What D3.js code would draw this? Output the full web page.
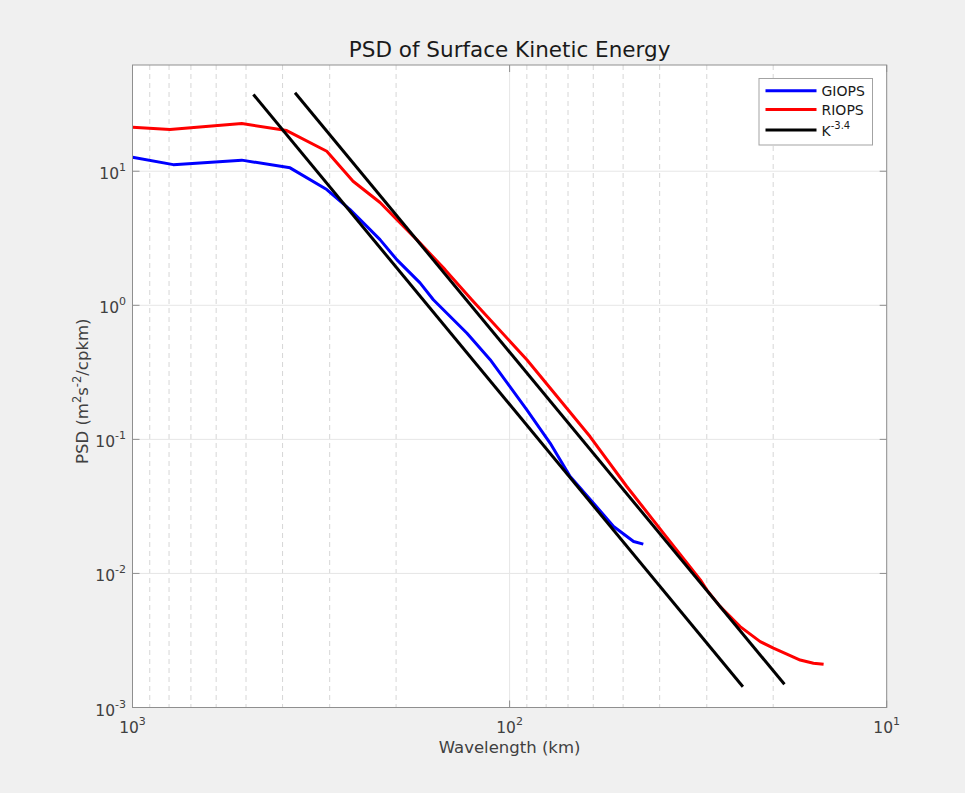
<!DOCTYPE html>
<html>
<head>
<meta charset="utf-8">
<script src="https://cdn.jsdelivr.net/npm/d3@7"></script>
<style>
  html, body { margin: 0; padding: 0; background: #f0f0f0; }
  svg { display: block; font-family: "DejaVu Sans", sans-serif; }
</style>
</head>
<body>
<svg id="chart" width="965" height="793"></svg>
<script>
// ---- data ----
const giopsWavelength = [1000, 779.6, 513.2, 382.1, 305.4, 264.9, 220.6, 199.2, 172.8, 159.3, 129.9, 112.6, 90.0, 78.1, 69.1, 59.9, 53.0, 46.9, 44.2];
const giopsPSD        = [12.7, 11.2, 12.1, 10.6, 7.30, 5.18, 3.09, 2.19, 1.47, 1.10, 0.622, 0.393, 0.166, 0.0939, 0.0528, 0.0334, 0.0224, 0.0173, 0.01653];

const riopsWavelength = [1000, 795.6, 513.2, 390.0, 305.4, 260.1, 220.6, 199.2, 176.3, 148.3, 126.0, 90.0, 61.2, 48.9, 39.1, 31.2, 30.0, 27.64, 24.47, 21.65, 19.97, 18.40, 16.96, 15.64, 14.7];
const riopsPSD        = [21.3, 20.5, 22.7, 20.1, 14.1, 8.42, 5.84, 4.36, 3.09, 1.845, 1.10, 0.393, 0.105, 0.0445, 0.0200, 0.00895, 0.00754, 0.00566, 0.00401, 0.0031, 0.00277, 0.0025, 0.00226, 0.00214, 0.0021];

const ref1Wavelength = [478, 24.06];
const ref1PSD        = [37.4, 0.00143];
const ref2Wavelength = [370.7, 18.67];
const ref2PSD        = [38.5, 0.00149];

const xMajorTicks = [1000, 100, 10];
const xMajorExp   = [3, 2, 1];
const xMinorTicks = [900, 800, 700, 600, 500, 400, 300, 200, 90, 80, 70, 60, 50, 40, 30, 20];
const yMajorTicks = [1e-3, 1e-2, 1e-1, 1, 10];
const yMajorExp   = ["-3", "-2", "-1", "0", "1"];

const seriesNames  = ["GIOPS", "RIOPS"];
const seriesColors = ["#0000ff", "#ff0000"];

// ---- layout ----
const L = 132.5, R = 886.7, T = 65, B = 707.5;
const svg = d3.select("#chart");

const x = d3.scaleLog().domain([1000, 10]).range([L, R]);
const y = d3.scaleLog().domain([1e-3, 62]).range([B, T]);

svg.append("rect").attr("x", L).attr("y", T).attr("width", R - L).attr("height", B - T).attr("fill", "#ffffff");

// grid
const g = svg.append("g");
g.selectAll(".xminor").data(xMinorTicks).enter().append("line")
  .attr("x1", d => x(d)).attr("x2", d => x(d)).attr("y1", T).attr("y2", B)
  .attr("stroke", "#d6d6d6").attr("stroke-width", 1).attr("stroke-dasharray", "5,4");
g.selectAll(".xmajor").data(xMajorTicks).enter().append("line")
  .attr("x1", d => x(d)).attr("x2", d => x(d)).attr("y1", T).attr("y2", B)
  .attr("stroke", "#e6e6e6").attr("stroke-width", 1);
g.selectAll(".ymajor").data(yMajorTicks).enter().append("line")
  .attr("y1", d => y(d)).attr("y2", d => y(d)).attr("x1", L).attr("x2", R)
  .attr("stroke", "#e6e6e6").attr("stroke-width", 1);

// data lines
const line = d3.line().x(d => x(d[0])).y(d => y(d[1]));
svg.append("defs").append("clipPath").attr("id", "clip")
  .append("rect").attr("x", L).attr("y", T).attr("width", R - L).attr("height", B - T);
const plot = svg.append("g").attr("clip-path", "url(#clip)");

const giops = giopsWavelength.map((w, i) => [w, giopsPSD[i]]);
const riops = riopsWavelength.map((w, i) => [w, riopsPSD[i]]);
const ref1 = ref1Wavelength.map((w, i) => [w, ref1PSD[i]]);
const ref2 = ref2Wavelength.map((w, i) => [w, ref2PSD[i]]);

[[giops, seriesColors[0]], [riops, seriesColors[1]], [ref1, "#000000"], [ref2, "#000000"]].forEach(([d, c]) => {
  plot.append("path").datum(d).attr("d", line)
    .attr("fill", "none").attr("stroke", c).attr("stroke-width", 3)
    .attr("stroke-linejoin", "round").attr("stroke-linecap", "butt");
});

// axes box + ticks
const axisColor = "#8f8f8f";
svg.append("rect").attr("x", L).attr("y", T).attr("width", R - L).attr("height", B - T)
  .attr("fill", "none").attr("stroke", axisColor).attr("stroke-width", 1);
const tk = 7;
yMajorTicks.forEach(v => {
  svg.append("line").attr("x1", L).attr("x2", L + tk).attr("y1", y(v)).attr("y2", y(v)).attr("stroke", axisColor);
  svg.append("line").attr("x1", R - tk).attr("x2", R).attr("y1", y(v)).attr("y2", y(v)).attr("stroke", axisColor);
});
xMajorTicks.forEach(v => {
  svg.append("line").attr("x1", x(v)).attr("x2", x(v)).attr("y1", B - tk).attr("y2", B).attr("stroke", axisColor);
  svg.append("line").attr("x1", x(v)).attr("x2", x(v)).attr("y1", T).attr("y2", T + tk).attr("stroke", axisColor);
});

// tick labels
const textColor = "#404040";
xMajorTicks.forEach((v, i) => {
  const t = svg.append("text").attr("x", x(v)).attr("y", B + 25.5)
    .attr("text-anchor", "middle").attr("fill", textColor).attr("font-size", 15.5);
  t.append("tspan").text("10");
  t.append("tspan").attr("dy", -8).attr("font-size", 11).text(xMajorExp[i]);
});
yMajorTicks.forEach((v, i) => {
  const t = svg.append("text").attr("x", 126).attr("y", y(v) + 8)
    .attr("text-anchor", "end").attr("fill", textColor).attr("font-size", 15.5);
  t.append("tspan").text("10");
  t.append("tspan").attr("dy", -8).attr("font-size", 11).text(yMajorExp[i]);
});

// axis labels
svg.append("text").attr("x", (L + R) / 2).attr("y", 752.5).attr("text-anchor", "middle")
  .attr("fill", textColor).attr("font-size", 16.5).text("Wavelength (km)");

const yl = svg.append("text").attr("transform", `translate(88,${(T + B) / 2 + 5}) rotate(-90)`)
  .attr("text-anchor", "middle").attr("fill", textColor).attr("font-size", 16.5);
yl.append("tspan").text("PSD (m");
yl.append("tspan").attr("dy", -7).attr("font-size", 11.5).text("2");
yl.append("tspan").attr("dy", 7).text("s");
yl.append("tspan").attr("dy", -7).attr("font-size", 11.5).text("-2");
yl.append("tspan").attr("dy", 7).text("/cpkm)");

// title
svg.append("text").attr("x", (L + R) / 2).attr("y", 57).attr("text-anchor", "middle")
  .attr("fill", "#1a1a1a").attr("font-size", 21.5).text("PSD of Surface Kinetic Energy");

// legend
const lg = svg.append("g");
lg.append("rect").attr("x", 759).attr("y", 78.5).attr("width", 113.5).attr("height", 66.5)
  .attr("fill", "#ffffff").attr("stroke", "#a3a3a3").attr("stroke-width", 1);
const legendRows = [
  { name: seriesNames[0], color: seriesColors[0], y: 90.7 },
  { name: seriesNames[1], color: seriesColors[1], y: 109.5 },
  { name: "K", sup: "-3.4", color: "#000000", y: 130 }
];
legendRows.forEach(r => {
  lg.append("line").attr("x1", 765.5).attr("x2", 816.5).attr("y1", r.y).attr("y2", r.y)
    .attr("stroke", r.color).attr("stroke-width", 3);
  const t = lg.append("text").attr("x", 821.5).attr("y", r.y + 5.5)
    .attr("fill", "#1a1a1a").attr("font-size", 14);
  t.append("tspan").text(r.name);
  if (r.sup) t.append("tspan").attr("dy", -7).attr("font-size", 10).text(r.sup);
});
</script>
</body>
</html>
